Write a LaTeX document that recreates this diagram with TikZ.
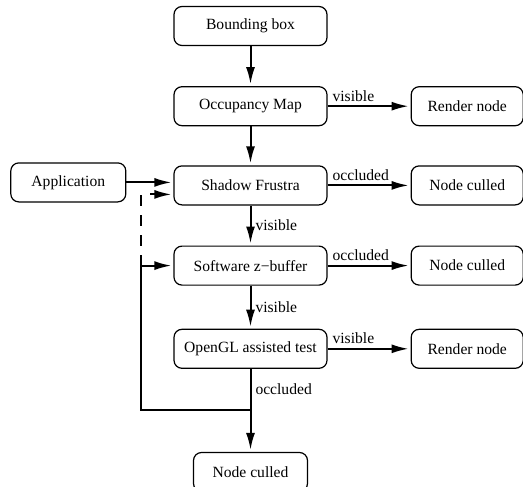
\documentclass[tikz,border=0pt]{standalone}
\usepackage{fontspec}
\setmainfont{Liberation Serif}
\usetikzlibrary{arrows.meta, positioning}

\begin{document}
\begin{tikzpicture}[
    font=\rmfamily\fontsize{7.8}{9.4}\selectfont,
    box/.style={rectangle, rounded corners=4pt, draw, line width=0.6pt,
      minimum width=76.5pt, minimum height=19.5pt, inner sep=2pt},
    endbox/.style={box, minimum width=56pt},
    flow/.style={-{Latex[length=8.5pt, width=4.5pt]}, line width=1pt, shorten >=1pt},
    lbl/.style={inner sep=2pt}
  ]
  \useasboundingbox (0,0) rectangle (261.5pt,-243pt);

  % main column
  \node[box] (bbox) at (125.25pt,-13pt) {Bounding box};
  \node[box, below=20pt of bbox] (occ) {Occupancy Map};
  \node[box, below=19.5pt of occ] (sf) {Shadow Frustra};
  \node[box, below=20pt of sf] (zbuf) {Software z−buffer};
  \node[box, below=21.5pt of zbuf] (ogl) {OpenGL assisted test};
  \node[box, minimum width=57pt, below=41.5pt of ogl] (cull3) {Node culled};

  % outcomes
  \node[endbox, right=41.5pt of occ] (render1) {Render node};
  \node[endbox, right=41.5pt of sf] (cull1) {Node culled};
  \node[endbox, right=41.5pt of zbuf] (cull2) {Node culled};
  \node[endbox, right=41.5pt of ogl] (render2) {Render node};

  \node[box, minimum width=57.5pt, left=23.5pt of sf, yshift=1.5pt] (app) {Application};

  \coordinate[below=20.5pt of ogl.south] (join);
  \coordinate (loop) at ([xshift=-16pt]zbuf.west |- join);

  % connectors
  \draw[flow] (bbox) -- (occ);
  \draw[flow] (occ) -- (sf);
  \draw[flow] (sf) -- (zbuf) node[lbl, midway, anchor=west] {visible};
  \draw[flow] (zbuf) -- (ogl) node[lbl, midway, anchor=west] {visible};
  \draw[flow] (occ) -- (render1) node[lbl, pos=0, anchor=south west] {visible};
  \draw[flow] (sf) -- (cull1) node[lbl, pos=0, anchor=south west] {occluded};
  \draw[flow] (zbuf) -- (cull2) node[lbl, pos=0, anchor=south west] {occluded};
  \draw[flow] (ogl) -- (render2) node[lbl, pos=0, anchor=south west] {visible};
  \draw[flow] (app.east) -- (sf.west |- app.east);

  \draw[line width=1pt] (ogl) -- (join) node[lbl, midway, anchor=west] {occluded};
  \draw[flow] (join) -- (cull3);
  \draw[flow] (join) -- (loop) |- (zbuf.west);
  \draw[flow, dash pattern=on 5.5pt off 4.5pt] ([xshift=-16pt]zbuf.west) |- ([yshift=-4.5pt]sf.west);
\end{tikzpicture}
\end{document}
